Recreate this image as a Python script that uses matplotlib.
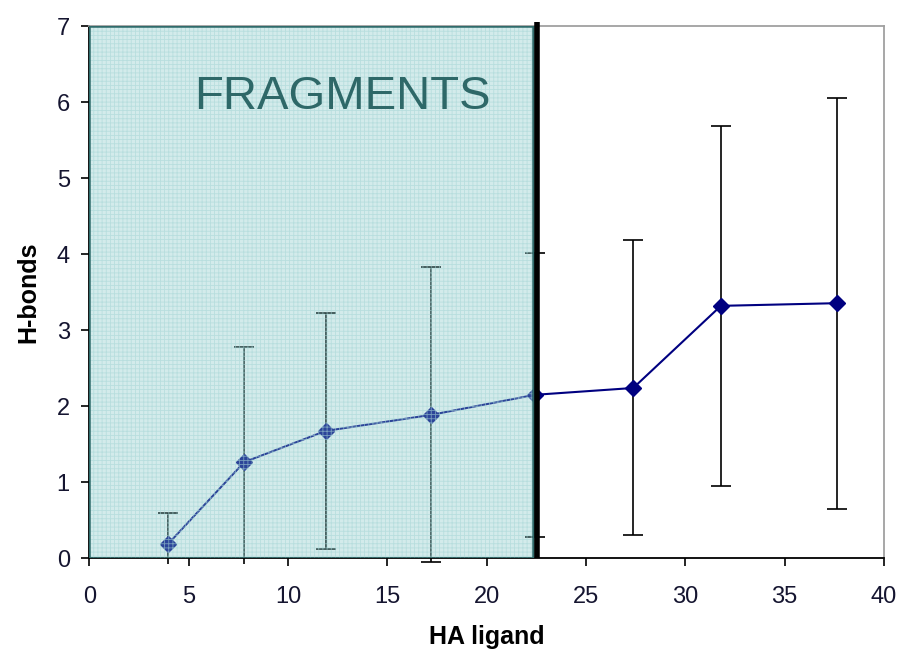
import matplotlib
matplotlib.use("Agg")
import matplotlib.pyplot as plt
from matplotlib.patches import Rectangle

plt.rcParams['font.family'] = ['Liberation Sans', 'DejaVu Sans']
plt.rcParams['hatch.linewidth'] = 0.6

# Mean number of H-bonds per ligand heavy-atom bin, with standard deviation
ha_ligand = [3.97, 7.80, 11.9, 17.2, 22.43, 27.38, 31.79, 37.61]
h_bonds = [0.19, 1.265, 1.675, 1.886, 2.15, 2.24, 3.32, 3.355]
h_bonds_sd = [0.40, 1.52, 1.555, 1.94, 1.87, 1.94, 2.37, 2.70]

fragment_limit = 22.35   # upper edge of the fragment region
cutoff_x = 22.55         # heavy-atom cutoff marker
x_ticks = [0, 5, 10, 15, 20, 25, 30, 35, 40]
y_ticks = [0, 1, 2, 3, 4, 5, 6, 7]

fig = plt.figure(figsize=(8.99, 6.52), dpi=100)
ax = fig.add_axes([0.0993, 0.1437, 0.8840, 0.8164])
ax.set_xlim(0, 40)
ax.set_ylim(0, 7)

# Series line with diamond markers
ax.plot(ha_ligand, h_bonds, color='#000080', lw=1.5, marker='D', ms=8,
        mec='#000080', mfc='#000080', zorder=2.5, clip_on=False)

# Error bars, clipped just below the x axis
eb = ax.errorbar(ha_ligand, h_bonds, yerr=h_bonds_sd, fmt='none',
                 ecolor='black', elinewidth=1.2, capsize=7, capthick=1.2,
                 zorder=2)
clip_rect = Rectangle((0, -0.08), 40, 7.3, transform=ax.transData,
                      facecolor='none', edgecolor='none')
for art in list(eb.lines[1]) + list(eb.lines[2]):
    art.set_clip_path(clip_rect)

# Shaded fragment region drawn over the data
ax.add_patch(Rectangle((0, 0), fragment_limit, 7, facecolor='#81c8c8',
                       alpha=0.35, edgecolor='none', zorder=3))
ax.add_patch(Rectangle((0, 0), fragment_limit, 7, fill=False, hatch='++++',
                       edgecolor='#a6d6d6', linewidth=0, alpha=0.6, zorder=3.1))
ax.add_patch(Rectangle((0, 0), fragment_limit, 7, fill=False,
                       edgecolor='#2f6b6b', linewidth=1.8, zorder=3.2))

ax.text(12.72, 6.06, 'FRAGMENTS', color='#2e6868', fontsize=34,
        ha='center', va='center', zorder=5)

# Cutoff line
ax.plot([cutoff_x, cutoff_x], [0, 7.05], color='black', lw=4,
        solid_capstyle='butt', zorder=4, clip_on=False)

ax.set_xticks(x_ticks)
ax.set_yticks(y_ticks)
ax.tick_params(direction='out', length=6, width=1.2, labelsize=17,
               colors='black', labelcolor='#151530')
ax.tick_params(axis='x', pad=14)
ax.tick_params(axis='y', pad=8)

for side in ['left', 'bottom']:
    ax.spines[side].set_color('black')
    ax.spines[side].set_linewidth(1.3)
for side in ['top', 'right']:
    ax.spines[side].set_color('#a0a0a0')
    ax.spines[side].set_linewidth(1.3)

ax.set_xlabel('HA ligand', fontsize=18, fontweight='bold', labelpad=12)
ax.set_ylabel('H-bonds', fontsize=18, fontweight='bold', labelpad=12)

fig.savefig('out.png', dpi=100)
